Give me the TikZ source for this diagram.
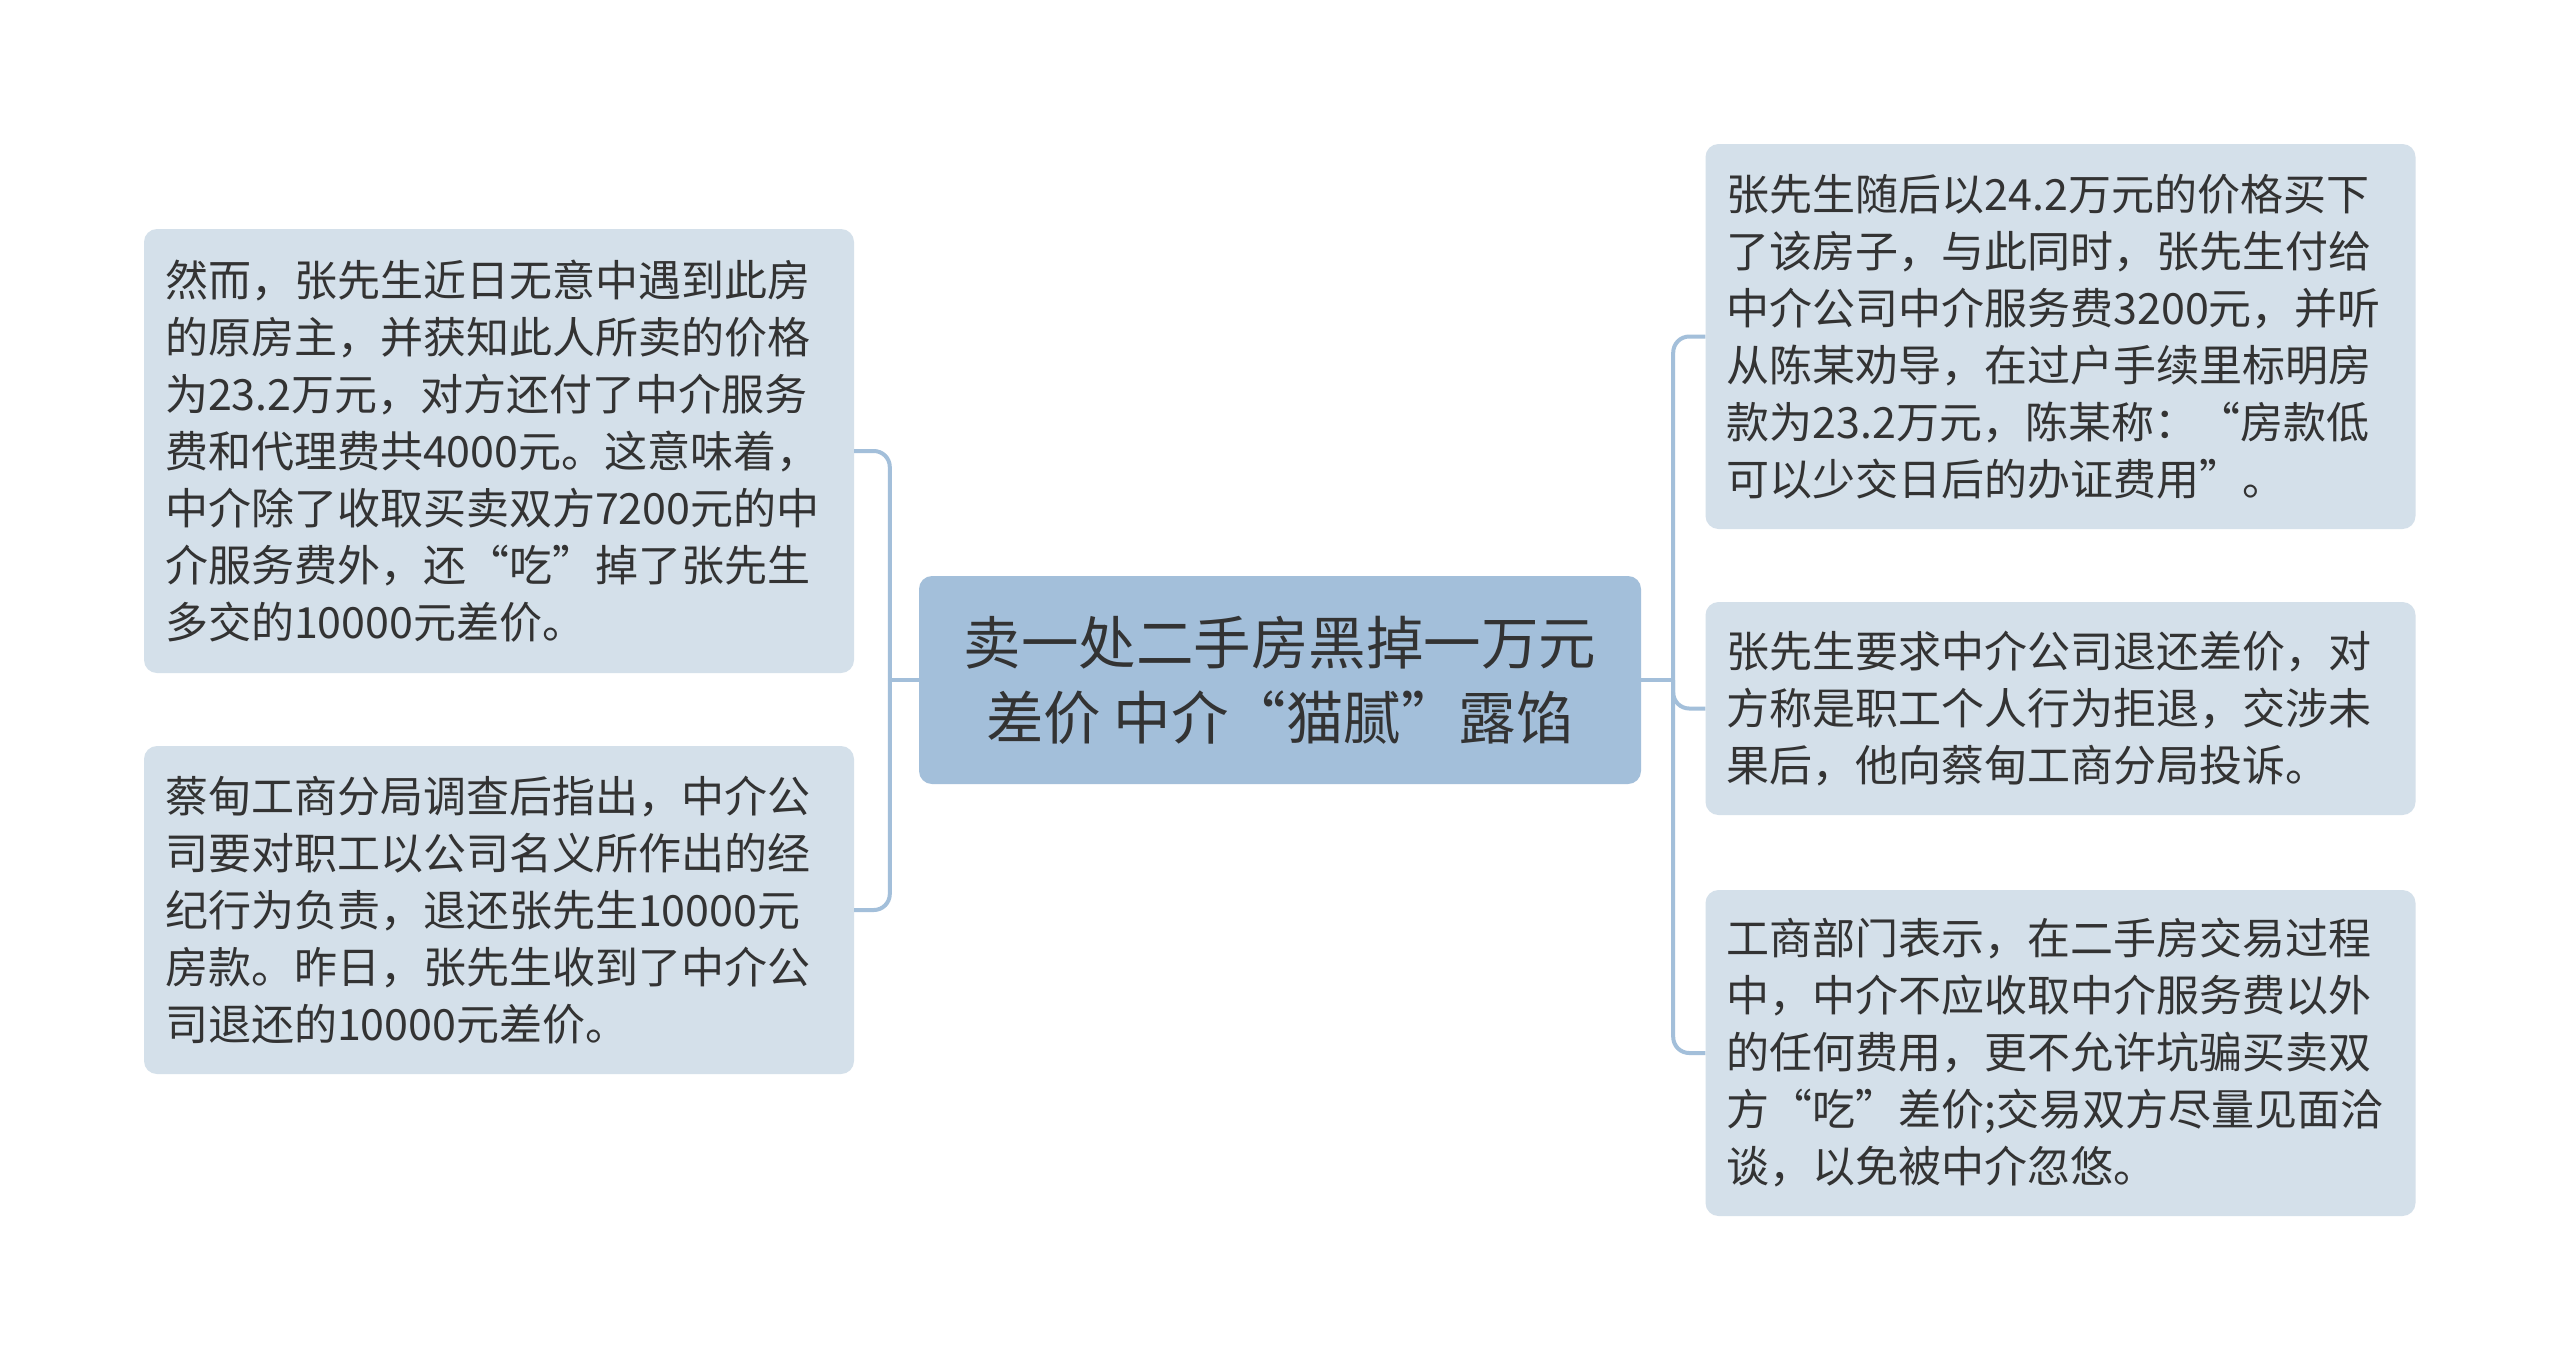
\documentclass[tikz,border=0pt]{standalone}
\usepackage{fontspec}
\setmainfont{Noto Sans CJK SC}
\usetikzlibrary{calc}
\definecolor{rootfill}{HTML}{A3BFDA}
\definecolor{leaffill}{HTML}{D4E0EA}
\definecolor{linkc}{HTML}{A3BFDA}
\definecolor{txt}{HTML}{333333}
\tikzset{
  leaf/.style={draw=none, fill=leaffill, rounded corners=13pt, align=left, text=txt,
    font=\fontsize{43pt}{57pt}\selectfont, inner ysep=0pt, inner xsep=21pt,
    text width=668pt, minimum width=710pt},
  root/.style={draw=none, fill=rootfill, rounded corners=13pt, align=center, text=txt,
    font=\fontsize{57.5pt}{75pt}\selectfont, inner sep=0pt, minimum width=722pt, minimum height=208pt},
  link/.style={draw=linkc, line width=4pt, rounded corners=16pt},
}
\begin{document}
\begin{tikzpicture}[x=1pt,y=-1pt]
\useasboundingbox (0,0) rectangle (2560,1361);
\fill[white] (0,0) rectangle (2560,1361);
\node[root] (c) at (1280,680) {卖一处二手房黑掉一万元\\差价 中介“猫腻”露馅};
\node[leaf, minimum height=444pt] (l1) at (499,451) {然而，张先生近日无意中遇到此房\\的原房主，并获知此人所卖的价格\\为23.2万元，对方还付了中介服务\\费和代理费共4000元。这意味着，\\中介除了收取买卖双方7200元的中\\介服务费外，还“吃”掉了张先生\\多交的10000元差价。};
\node[leaf, minimum height=328pt] (l2) at (499,910) {蔡甸工商分局调查后指出，中介公\\司要对职工以公司名义所作出的经\\纪行为负责，退还张先生10000元\\房款。昨日，张先生收到了中介公\\司退还的10000元差价。};
\node[leaf, minimum height=385pt] (r1) at (2060.5,336.5) {张先生随后以24.2万元的价格买下\\了该房子，与此同时，张先生付给\\中介公司中介服务费3200元，并听\\从陈某劝导，在过户手续里标明房\\款为23.2万元，陈某称：“房款低\\可以少交日后的办证费用”。};
\node[leaf, minimum height=213pt] (r2) at (2060.5,708.5) {张先生要求中介公司退还差价，对\\方称是职工个人行为拒退，交涉未\\果后，他向蔡甸工商分局投诉。};
\node[leaf, minimum height=326pt] (r3) at (2060.5,1053) {工商部门表示，在二手房交易过程\\中，中介不应收取中介服务费以外\\的任何费用，更不允许坑骗买卖双\\方“吃”差价;交易双方尽量见面洽\\谈，以免被中介忽悠。};
\coordinate (lj) at ($(c.west)+(-29,0)$);
\coordinate (rj) at ($(c.east)+(32,0)$);
\draw[draw=linkc, line width=4pt] (c.west) -- (lj);
\draw[draw=linkc, line width=4pt] (c.east) -- (rj);
\draw[link] (lj) |- (l1.east);
\draw[link] (lj) |- (l2.east);
\draw[link] (rj) |- (r1.west);
\draw[link] (rj) |- (r2.west);
\draw[link] (rj) |- (r3.west);
\end{tikzpicture}
\end{document}
